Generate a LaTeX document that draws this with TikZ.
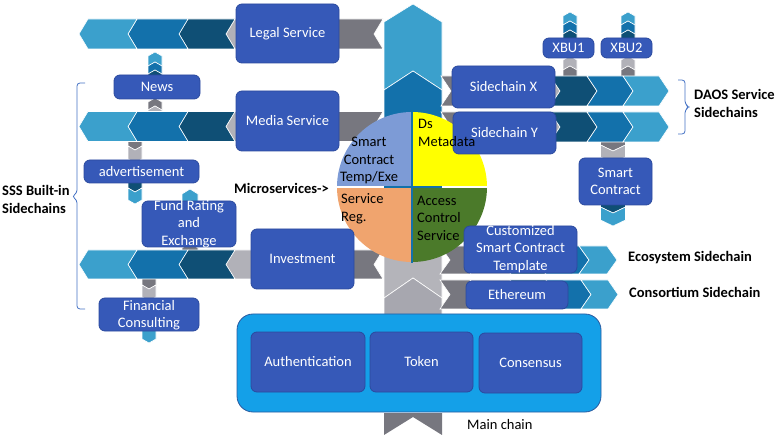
\documentclass[tikz,border=0pt]{standalone}
\usepackage{fontspec}
\setmainfont{Carlito}
\definecolor{lblue}{HTML}{3BA0CC}
\definecolor{mblue}{HTML}{1371AB}
\definecolor{dblue}{HTML}{0F4F75}
\definecolor{lgray}{HTML}{B1B1B8}
\definecolor{dgray}{HTML}{77777F}
\definecolor{colgrayA}{HTML}{B4B4BA}
\definecolor{colgrayB}{HTML}{A7A7AF}
\definecolor{boxblue}{HTML}{3659B8}
\definecolor{boxedge}{HTML}{2B4A9E}
\definecolor{mainblue}{HTML}{14A0E8}
\definecolor{mainedge}{HTML}{2A5AA0}
\definecolor{pieTL}{HTML}{7D9BD6}
\definecolor{pieTR}{HTML}{FFFF00}
\definecolor{pieBL}{HTML}{F0A46E}
\definecolor{pieBR}{HTML}{4B7A2A}
\definecolor{brk}{HTML}{4472C4}
\newcommand{\myfs}{\fontsize{14.5}{17.5}\selectfont}
\tikzset{
  chev/.style={draw=white, line width=0.6pt},
  box/.style={draw=boxedge, fill=boxblue, rounded corners=6pt, line width=0.8pt,
    text=white, font=\myfs, inner sep=0pt, align=center},
  boxtxt/.style={text=white, font=\myfs, inner sep=0pt, align=center},
  pietxt/.style={text=black, font=\myfs, inner sep=0pt},
  lbl/.style={text=black, font=\myfs\bfseries, inner sep=0pt, align=left},
  brace/.style={draw=brk, line width=0.8pt, rounded corners=3pt}
}
% left-pointing: color, tip x, notch x, yc, h, d
\newcommand{\ChevL}[6]{\filldraw[chev, fill=#1] ({#2},{#4}) -- ({#2+#6},{#4-#5}) -- ({#3+#6},{#4-#5}) -- ({#3},{#4}) -- ({#3+#6},{#4+#5}) -- ({#2+#6},{#4+#5}) -- cycle;}
% right-pointing: color, notch x, tip x, yc, h, d
\newcommand{\ChevR}[6]{\filldraw[chev, fill=#1] ({#2-#6},{#4-#5}) -- ({#3-#6},{#4-#5}) -- ({#3},{#4}) -- ({#3-#6},{#4+#5}) -- ({#2-#6},{#4+#5}) -- ({#2},{#4}) -- cycle;}
% up-pointing: color, tip y, notch y, xc, w, d
\newcommand{\ChevU}[6]{\filldraw[chev, fill=#1] ({#4},{#2}) -- ({#4+#5},{#2+#6}) -- ({#4+#5},{#3+#6}) -- ({#4},{#3}) -- ({#4-#5},{#3+#6}) -- ({#4-#5},{#2+#6}) -- cycle;}
% down-pointing: color, notch y, tip y, xc, w, d
\newcommand{\ChevD}[6]{\filldraw[chev, fill=#1] ({#4},{#2}) -- ({#4+#5},{#2-#6}) -- ({#4+#5},{#3-#6}) -- ({#4},{#3}) -- ({#4-#5},{#3-#6}) -- ({#4-#5},{#2-#6}) -- cycle;}
\begin{document}
\begin{tikzpicture}[x=1pt, y=-1pt]
\useasboundingbox (0,0) rectangle (781,435);
% ---------- small vertical chevrons ----------
\ChevU{lblue}{52}{62}{155}{7}{4}
\ChevU{mblue}{62}{70}{155}{7}{4}
\ChevU{dblue}{70}{80}{155}{7}{4}
\ChevU{dgray}{98}{106}{155}{7}{4}
\ChevU{lgray}{106}{118}{155}{7}{4}
\ChevD{dgray}{138}{150}{135}{7}{4}
\ChevD{lgray}{150}{163}{135}{7}{4}
\ChevD{dblue}{178}{192}{135}{7}{4}
\ChevD{lblue}{192}{204}{135}{7}{4}
\ChevU{lblue}{189}{205}{190}{8}{5}
\ChevU{dgray}{243}{256}{190}{8}{5}
\ChevD{dgray}{275}{289}{149}{7}{4}
\ChevD{lgray}{289}{301}{149}{7}{4}
\ChevD{lblue}{327}{343}{149}{7}{4}
\foreach \xc in {570,628}{
  \ChevU{lblue}{12}{21}{\xc}{7}{4}
  \ChevU{mblue}{21}{30}{\xc}{7}{4}
  \ChevU{dblue}{30}{42}{\xc}{7}{4}
  \ChevU{lgray}{56}{66}{\xc}{7}{4}
  \ChevU{dgray}{66}{80}{\xc}{7}{4}
}
\ChevD{dgray}{138}{151}{613}{12.5}{6}
\ChevD{lgray}{151}{163}{613}{12.5}{6}
\ChevD{dblue}{200}{213}{613}{12.5}{6}
\ChevD{lblue}{213}{226}{613}{12.5}{6}
% ---------- main vertical column ----------
\filldraw[chev, fill=lblue] (384,22) -- (413,4) -- (442,22) -- (442,90) -- (413,71) -- (384,90) -- cycle;
\filldraw[chev, fill=mblue] (384,90) -- (413,71) -- (442,90) -- (442,256) -- (413,238) -- (384,256) -- cycle;
\filldraw[chev, fill=colgrayA] (384,256) -- (413,238) -- (442,256) -- (442,298) -- (413,278) -- (384,298) -- cycle;
\filldraw[chev, fill=colgrayB] (384,298) -- (413,278) -- (442,298) -- (442,330) -- (384,330) -- cycle;
\fill[dgray] (384,413) -- (442,413) -- (442,435) -- (413,417) -- (384,435) -- cycle;
% ---------- left horizontal rows ----------
\foreach \yc/\hh/\gn in {34/15/260, 126.5/15/260, 264.5/14.5/270}{
  \ChevL{dgray}{300}{374}{\yc}{\hh}{9}
  \ChevL{lgray}{226}{\gn}{\yc}{\hh}{9}
  \ChevL{dblue}{179}{226}{\yc}{\hh}{9}
  \ChevL{mblue}{128}{179}{\yc}{\hh}{9}
  \ChevL{lblue}{79}{128}{\yc}{\hh}{9}
}
% ---------- right horizontal rows ----------
\foreach \yc in {91,127}{
  \ChevR{dgray}{451}{480}{\yc}{15}{10}
  \ChevR{lgray}{480}{560}{\yc}{15}{10}
  \ChevR{dblue}{560}{597}{\yc}{15}{10}
  \ChevR{mblue}{597}{633}{\yc}{15}{10}
  \ChevR{lblue}{633}{669}{\yc}{15}{10}
}
\ChevR{dgray}{450}{480}{260}{14}{10}
\ChevR{lgray}{480}{520}{260}{14}{10}
\ChevR{dblue}{520}{555}{260}{14}{10}
\ChevR{mblue}{555}{589}{260}{14}{10}
\ChevR{lblue}{589}{617}{260}{14}{10}
\ChevR{dgray}{450}{480}{294.5}{14.5}{10}
\ChevR{lgray}{480}{520}{294.5}{14.5}{10}
\ChevR{dblue}{520}{556}{294.5}{14.5}{10}
\ChevR{mblue}{556}{591}{294.5}{14.5}{10}
\ChevR{lblue}{591}{618}{294.5}{14.5}{10}
% ---------- pie ----------
\begin{scope}\clip (330,105) rectangle (412,187); \fill[pieTL] (412,187) circle[radius=75pt]; \end{scope}
\begin{scope}\clip (412,105) rectangle (495,187); \fill[pieTR] (412,187) circle[radius=75pt]; \end{scope}
\begin{scope}\clip (330,187) rectangle (412,270); \fill[pieBL] (412,187) circle[radius=75pt]; \end{scope}
\begin{scope}\clip (412,187) rectangle (495,270); \fill[pieBR] (412,187) circle[radius=75pt]; \end{scope}
\draw[white, line width=1.6pt] (336,187) -- (488,187);
\draw[mblue, line width=1.6pt] (384,187) -- (442,187);
\draw[mblue, line width=1.6pt] (412,111) -- (412,263);
% ---------- boxes ----------
\node[box, minimum width=103, minimum height=59] (legal) at (287.5,33.5) {Legal Service};
\node[box, minimum width=103, minimum height=60] (media) at (287.5,121) {Media Service};
\node[box, minimum width=86, minimum height=24] (news) at (157,87) {News};
\node[box, minimum width=115, minimum height=23] (advert) at (141.5,171.5) {advertisement};
\node[box, minimum width=94, minimum height=46] (fund) at (189,224) {};
\node[boxtxt] (fundt) at (189,224) {Fund Rating\\and\\Exchange};
\node[box, minimum width=103, minimum height=60] (invest) at (302.5,259) {Investment};
\node[box, minimum width=100, minimum height=33] (fincons) at (149,314.5) {};
\node[boxtxt] (finconst) at (149,315) {Financial\\Consulting};
\node[box, minimum width=103, minimum height=42] (scx) at (503.5,87) {Sidechain X};
\node[box, minimum width=103, minimum height=42] (scy) at (504.5,133) {Sidechain Y};
\node[box, minimum width=51, minimum height=20] (xbu1) at (568.5,48) {XBU1};
\node[box, minimum width=51, minimum height=20] (xbu2) at (626.5,48) {XBU2};
\node[box, minimum width=73, minimum height=47] (smartc) at (615.5,181.5) {Smart\\Contract};
\node[box, minimum width=113, minimum height=47] (custom) at (520.5,249.5) {};
\node[boxtxt] (customt) at (520.5,249) {Customized\\Smart Contract\\Template};
\node[box, minimum width=102, minimum height=28] (eth) at (517,295) {Ethereum};
% ---------- pie text ----------
\node[pietxt, align=center] (p1) at (369,160.5) {Smart\\Contract\\Temp/Exe};
\node[pietxt, align=left, anchor=west] (p2) at (418,133) {Ds\\Metadata};
\node[pietxt, align=left, anchor=west] (p3) at (341,209) {Service\\Reg.};
\node[pietxt, align=left, anchor=west] (p4) at (417,218) {Access\\Control\\Service};
% ---------- main chain ----------
\node[draw=mainedge, fill=mainblue, line width=0.8pt, rounded corners=16pt, minimum width=364, minimum height=98, inner sep=0pt] (mainbox) at (419,363) {};
\node[box, minimum width=114, minimum height=60] (auth) at (308,362) {Authentication};
\node[box, minimum width=103, minimum height=60] (token) at (421.5,362) {Token};
\node[box, minimum width=103, minimum height=60] (cons) at (530.5,363) {Consensus};
% ---------- labels ----------
\node[lbl, anchor=west] (sss) at (2,199.5) {SSS Built-in\\Sidechains};
\node[lbl, anchor=west] (micro) at (234,188) {Microservices->};
\node[lbl, anchor=west] (daos) at (694,103.5) {DAOS Service\\Sidechains};
\node[lbl, anchor=west] (eco) at (628,258) {Ecosystem Sidechain};
\node[lbl, anchor=west] (consort) at (629,292) {Consortium Sidechain};
\node[text=black, font=\myfs, inner sep=0pt, anchor=west] (mainlbl) at (467,425) {Main chain};
% ---------- braces ----------
\draw[brace] (85,83) -- (77,83) -- (77,193) -- (72,196.5) -- (77,200) -- (77,309) -- (85,309);
\draw[brace] (678,80) -- (685,80) -- (685,104) -- (689,107) -- (685,110) -- (685,134) -- (678,134);
\end{tikzpicture}
\end{document}
